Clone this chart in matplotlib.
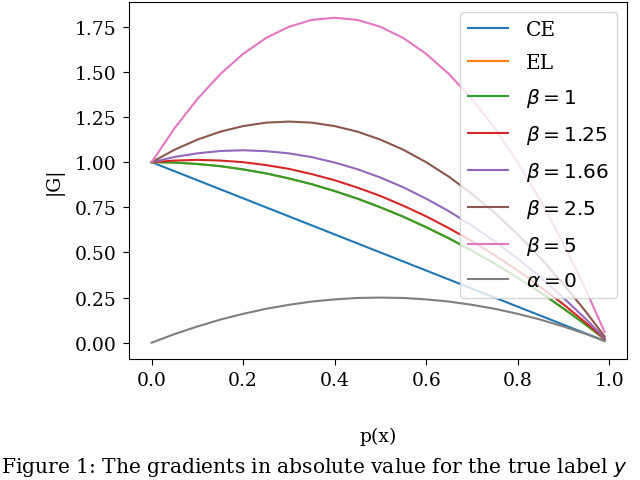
import matplotlib
matplotlib.use("Agg")
import matplotlib.pyplot as plt

# p(x) sample points
p = [0.0, 0.05, 0.1, 0.15, 0.2, 0.25, 0.3, 0.35, 0.4, 0.45, 0.5,
     0.55, 0.6, 0.65, 0.7, 0.75, 0.8, 0.85, 0.9, 0.95, 0.99]

# |G|
ce = [1.00, 0.95, 0.90, 0.85, 0.80, 0.75, 0.70, 0.65, 0.60, 0.55, 0.50,
      0.45, 0.40, 0.35, 0.30, 0.25, 0.20, 0.15, 0.10, 0.05, 0.01]
el = [1.000, 0.998, 0.990, 0.978, 0.960, 0.938, 0.910, 0.878, 0.840, 0.798, 0.750,
      0.698, 0.640, 0.578, 0.510, 0.438, 0.360, 0.278, 0.190, 0.098, 0.020]
b1 = [1.000, 0.998, 0.990, 0.978, 0.960, 0.938, 0.910, 0.878, 0.840, 0.798, 0.750,
      0.698, 0.640, 0.578, 0.510, 0.438, 0.360, 0.278, 0.190, 0.098, 0.020]
b125 = [1.000, 1.009, 1.013, 1.009, 1.000, 0.984, 0.963, 0.934, 0.900, 0.859, 0.813,
        0.759, 0.700, 0.634, 0.563, 0.484, 0.400, 0.309, 0.213, 0.109, 0.022]
b166 = [1.000, 1.029, 1.049, 1.062, 1.066, 1.061, 1.049, 1.028, 0.998, 0.961, 0.915,
        0.861, 0.798, 0.728, 0.649, 0.561, 0.466, 0.362, 0.249, 0.129, 0.026]
b25 = [1.000, 1.069, 1.125, 1.169, 1.200, 1.219, 1.225, 1.219, 1.200, 1.169, 1.125,
       1.069, 1.000, 0.919, 0.825, 0.719, 0.600, 0.469, 0.325, 0.169, 0.035]
b5 = [1.000, 1.188, 1.350, 1.488, 1.600, 1.688, 1.750, 1.788, 1.800, 1.788, 1.750,
      1.688, 1.600, 1.488, 1.350, 1.188, 1.000, 0.788, 0.550, 0.288, 0.060]
a0 = [0.000, 0.048, 0.090, 0.128, 0.160, 0.188, 0.210, 0.228, 0.240, 0.248, 0.250,
      0.248, 0.240, 0.228, 0.210, 0.188, 0.160, 0.128, 0.090, 0.048, 0.010]

series = [ce, el, b1, b125, b166, b25, b5, a0]
labels = ["CE", "EL", r"$\beta=1$", r"$\beta=1.25$", r"$\beta=1.66$",
          r"$\beta=2.5$", r"$\beta=5$", r"$\alpha=0$"]

plt.rcParams['font.family'] = ['DejaVu Serif']
plt.rcParams['mathtext.fontset'] = 'dejavusans'

fig = plt.figure(figsize=(6.4, 4.81), dpi=100)
ax = fig.add_axes([0.2016, 0.2516, 0.7784, 0.7432])

for ys, lab in zip(series, labels):
    ax.plot(p, ys, label=lab, lw=1.5)

ax.tick_params(labelsize=13.5, length=4.3, pad=4.5)
ax.set_xticks([0.0, 0.2, 0.4, 0.6, 0.8, 1.0])
ax.set_yticks([0.0, 0.25, 0.5, 0.75, 1.0, 1.25, 1.5, 1.75])
ax.set_xlabel("p(x)", fontsize=13.5, labelpad=27)
ax.set_ylabel("|G|", fontsize=13.5, labelpad=8)
ax.legend(loc='upper right', fontsize=14.5, labelspacing=0.7,
          handlelength=2.0, handletextpad=0.9)

fig.text(0.002, 1 - 456 / 481, "Figure 1: The gradients in absolute value for the true label $y$",
         fontsize=14.6, va='top', ha='left')

fig.savefig("out.png", dpi=100)
